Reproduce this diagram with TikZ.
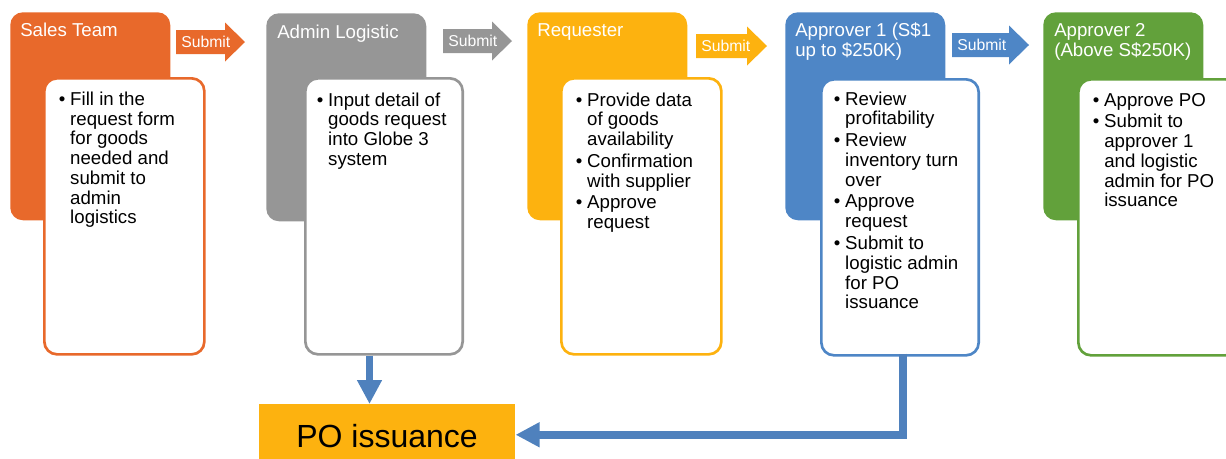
\documentclass[tikz,border=0pt]{standalone}
\usepackage{fontspec}
\setmainfont{Liberation Sans}
\usetikzlibrary{arrows.meta,calc}
\definecolor{cOrange}{HTML}{E8692B}
\definecolor{cGray}{HTML}{969696}
\definecolor{cYellow}{HTML}{FDB20F}
\definecolor{cBlue}{HTML}{4E86C6}
\definecolor{cGreen}{HTML}{62A13B}
\definecolor{cArrow}{HTML}{4F81BD}
\newcommand\bitem[1]{\par\hangindent=8.6pt\hangafter=1\noindent\makebox[8.6pt][l]{•}#1\par}
\newcommand\blist[1]{\parbox[t]{150pt}{\setlength\parskip{1.6pt}\setlength\parindent{0pt}#1}}
\newcommand\htext[1]{\parbox[t]{150pt}{\setlength\parindent{0pt}#1}}
\newcommand\subarrow[5]{%
  \fill[#4] (#1,#3-12) -- (#2-20,#3-12) -- (#2-20,#3-19.5) -- (#2,#3) -- (#2-20,#3+19.5) -- (#2-20,#3+12) -- (#1,#3+12) -- cycle;
  \node[stxt] (#5) at (#1+5,#3+5.6) {Submit};}
\begin{document}
\begin{tikzpicture}[x=0.75pt,y=-0.75pt,
  hdr/.style={anchor=north west, minimum width=120pt, minimum height=156pt, rounded corners=9.5pt, inner sep=0pt, draw=none},
  wbox/.style={anchor=north west, minimum width=120pt, minimum height=207pt, rounded corners=9.5pt, fill=white, draw=#1, line width=2pt, inner sep=0pt},
  htxt/.style={anchor=base west, inner sep=0pt, text=white, font=\fontsize{14}{15}\selectfont},
  btxt/.style={anchor=base west, inner sep=0pt, text=black, font=\fontsize{14}{14.8}\selectfont},
  stxt/.style={anchor=base west, inner sep=0pt, text=white, font=\fontsize{11.8}{13}\selectfont},
  pobox/.style={anchor=north west, minimum width=192pt, minimum height=45.75pt, inner sep=0pt, fill=cYellow, draw=none},
  potxt/.style={anchor=base, inner sep=0pt, text=black, font=\fontsize{24}{28}\selectfont},
  conn/.style={draw=cArrow, line width=5.6pt, -{Triangle[length=18pt,width=17.6pt]}}
]
\useasboundingbox (0,0) rectangle (1226,458);

% column 1
\node[hdr, fill=cOrange] (h1) at (10,12) {};
\node[wbox=cOrange] (w1) at (43,77) {};
\node[htxt] (t1) at (20,36) {\htext{Sales Team}};
\node[btxt] (b1) at (58.5,105.5) {\blist{\bitem{Fill in the\\request form\\for goods\\needed and\\submit to\\admin\\logistics}}};

% column 2
\node[hdr, fill=cGray] (h2) at (266,13) {};
\node[wbox=cGray, minimum width=118pt] (w2) at (304,77) {};
\node[htxt] (t2) at (277,38) {\htext{Admin Logistic}};
\node[btxt] (b2) at (316.5,106) {\blist{\bitem{Input detail of\\goods request\\into Globe 3\\system}}};

% column 3
\node[hdr, fill=cYellow] (h3) at (527,12) {};
\node[wbox=cYellow] (w3) at (560,77) {};
\node[htxt] (t3) at (537,36) {\htext{Requester}};
\node[btxt] (b3) at (575.5,106) {\blist{\bitem{Provide data\\of goods\\availability}\bitem{Confirmation\\with supplier}\bitem{Approve\\request}}};

% column 4
\node[hdr, fill=cBlue] (h4) at (785,12) {};
\node[wbox=cBlue, minimum width=118pt] (w4) at (820,78) {};
\node[htxt] (t4) at (795,36.5) {\htext{Approver 1 (S\$1\\up to \$250K)}};
\node[btxt] (b4) at (833.5,105) {\blist{\bitem{Review\\profitability}\bitem{Review\\inventory turn\\over}\bitem{Approve\\request}\bitem{Submit to\\logistic admin\\for PO\\issuance}}};

% column 5
\node[hdr, fill=cGreen] (h5) at (1043,12) {};
\node[wbox=cGreen] (w5) at (1077,78) {};
\node[htxt] (t5) at (1054,36) {\htext{Approver 2\\(Above S\$250K)}};
\node[btxt] (b5) at (1092.5,106) {\blist{\bitem{Approve PO}\bitem{Submit to\\approver 1\\and logistic\\admin for PO\\issuance}}};

% submit arrows
\subarrow{176}{245}{42}{cOrange}{s1}
\subarrow{443}{512}{41}{cGray}{s2}
\subarrow{696}{767}{46}{cYellow}{s3}
\subarrow{952}{1029}{45}{cBlue}{s4}

% PO issuance
\node[pobox] (po) at (259,404) {};
\node[potxt] (pot) at (387,447) {PO issuance};

% connectors
\coordinate (a1) at ($(w2.south)+(-14.5,0)$);
\coordinate (a2) at ($(w4.south)+(3,-3)$);
\draw[conn] (a1) -- (a1 |- po.north);
\draw[conn] (a2) |- (po.east);
\end{tikzpicture}
\end{document}
